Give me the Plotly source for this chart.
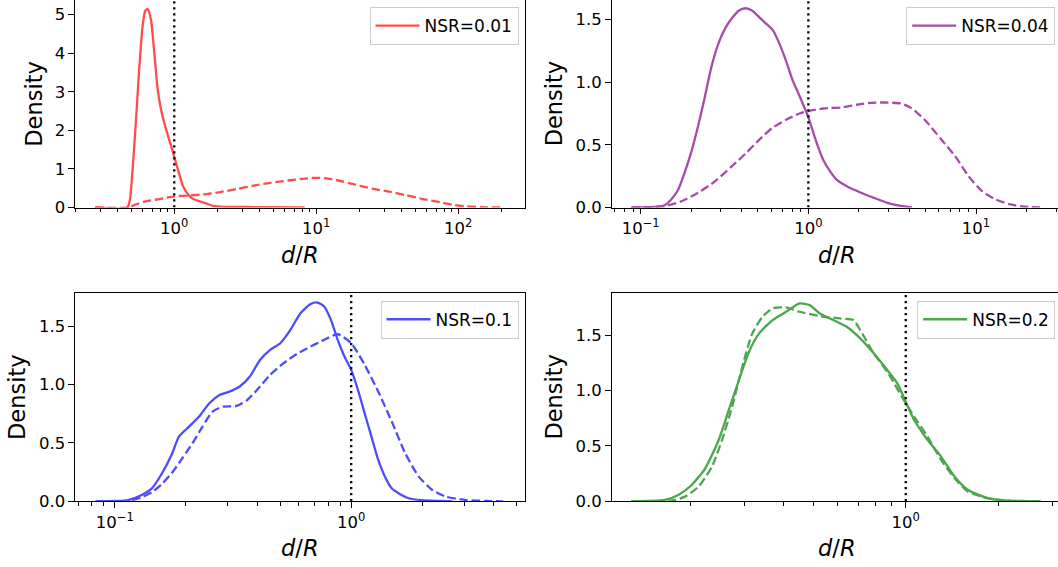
import plotly.graph_objects as go

# ---------------------------------------------------------------
# Density estimates of d/R for four noise-to-signal ratios.
# "solid" = first estimator, "dashed" = second estimator.
# ---------------------------------------------------------------
nsr_labels = ["NSR=0.01", "NSR=0.04", "NSR=0.1", "NSR=0.2"]

# NSR = 0.01
dr_solid_001 = [0.277, 0.467, 0.488, 0.507, 0.536, 0.566, 0.598, 0.624, 0.649, 0.686,
                0.724, 0.765, 0.808, 0.877, 0.952, 1.006, 1.062, 1.153, 1.252, 1.359,
                1.516, 1.692, 1.887, 2.224, 3.64, 8.28]
dens_solid_001 = [0, 0, 0.21, 0.9, 2.19, 3.57, 4.69, 5.10, 5.15, 4.86,
                  4.0, 3.05, 2.53, 2.02, 1.59, 1.28, 0.98, 0.55, 0.34, 0.22,
                  0.16, 0.10, 0.04, 0.017, 0.012, 0]
dr_dash_001 = [0.277, 0.48, 0.536, 0.631, 0.786, 1.0, 1.286, 1.601, 2.106, 2.769,
               3.641, 4.787, 6.30, 8.28, 10.03, 12.15, 14.31, 18.83, 24.75, 32.54,
               42.8, 56.3, 74.0, 92.1, 114.7, 142.8, 198.3]
dens_dash_001 = [0, 0, 0.08, 0.16, 0.22, 0.29, 0.31, 0.34, 0.40, 0.48,
                 0.57, 0.64, 0.70, 0.75, 0.77, 0.75, 0.70, 0.59, 0.49, 0.41,
                 0.32, 0.22, 0.14, 0.07, 0.03, 0.01, 0]

# NSR = 0.04
dr_solid_004 = [0.088, 0.138, 0.152, 0.167, 0.183, 0.201, 0.220, 0.242, 0.265, 0.291,
                0.319, 0.350, 0.384, 0.422, 0.463, 0.508, 0.557, 0.611, 0.671, 0.736,
                0.808, 0.886, 1.0, 1.118, 1.227, 1.346, 1.477, 1.697, 2.044, 2.461,
                2.963, 3.567, 4.14]
dens_solid_004 = [0, 0.016, 0.064, 0.14, 0.28, 0.45, 0.65, 0.89, 1.13, 1.31,
                  1.43, 1.51, 1.57, 1.59, 1.57, 1.52, 1.47, 1.42, 1.31, 1.17,
                  1.01, 0.89, 0.72, 0.52, 0.38, 0.29, 0.22, 0.17, 0.12, 0.077,
                  0.037, 0.013, 0]
dr_dash_004 = [0.088, 0.138, 0.175, 0.220, 0.278, 0.350, 0.422, 0.508, 0.611, 0.736,
               0.886, 1.0, 1.227, 1.621, 1.951, 2.350, 2.829, 3.567, 4.10, 4.94,
               6.23, 7.50, 9.03, 10.87, 13.09, 15.76, 18.97, 24.1]
dens_dash_004 = [0, 0.01, 0.05, 0.117, 0.21, 0.33, 0.43, 0.54, 0.636, 0.70,
                 0.75, 0.77, 0.79, 0.80, 0.82, 0.835, 0.838, 0.83, 0.795, 0.70,
                 0.54, 0.41, 0.25, 0.13, 0.064, 0.027, 0.008, 0]

# NSR = 0.1
dr_solid_01 = [0.083, 0.10, 0.114, 0.130, 0.1436, 0.1585, 0.175, 0.1868, 0.2062, 0.2276,
               0.2512, 0.2773, 0.306, 0.3378, 0.3728, 0.4115, 0.4542, 0.5012, 0.5532, 0.6105,
               0.6739, 0.7197, 0.7686, 0.8209, 0.8767, 0.9363, 1.0, 1.068, 1.14, 1.218,
               1.301, 1.389, 1.484, 1.585, 1.75, 1.995, 2.352, 2.683]
dens_solid_01 = [0, 0.003, 0.011, 0.054, 0.111, 0.24, 0.41, 0.554, 0.64, 0.726,
                 0.84, 0.911, 0.94, 0.983, 1.069, 1.211, 1.297, 1.354, 1.469, 1.611,
                 1.691, 1.703, 1.669, 1.554, 1.383, 1.24, 1.126, 0.954, 0.754, 0.554,
                 0.354, 0.211, 0.111, 0.069, 0.026, 0.009, 0.003, 0]
dr_dash_01 = [0.083, 0.114, 0.130, 0.1436, 0.1585, 0.175, 0.1931, 0.2131, 0.2351, 0.2595,
              0.2864, 0.3268, 0.3607, 0.398, 0.4542, 0.5179, 0.5906, 0.6739, 0.7686, 0.8767,
              1.0, 1.14, 1.301, 1.484, 1.693, 1.931, 2.203, 2.512, 3.06, 3.728, 4.394]
dens_dash_01 = [0, 0.003, 0.034, 0.077, 0.149, 0.246, 0.369, 0.497, 0.64, 0.769,
                0.811, 0.817, 0.863, 0.949, 1.083, 1.183, 1.263, 1.326, 1.383, 1.431,
                1.354, 1.169, 0.94, 0.683, 0.411, 0.211, 0.097, 0.04, 0.011, 0.003, 0]

# NSR = 0.2
dr_solid_02 = [0.128, 0.1646, 0.1821, 0.2014, 0.2229, 0.2465, 0.2659, 0.2868, 0.3093, 0.3336,
               0.3692, 0.4083, 0.4516, 0.4872, 0.5256, 0.5812, 0.6429, 0.7112, 0.7868, 0.8705,
               0.9389, 1.0, 1.065, 1.178, 1.303, 1.442, 1.595, 1.856, 2.159, 2.744]
dens_solid_02 = [0, 0.012, 0.057, 0.147, 0.298, 0.553, 0.824, 1.094, 1.35, 1.515,
                 1.635, 1.71, 1.785, 1.77, 1.695, 1.635, 1.575, 1.47, 1.335, 1.184,
                 1.064, 0.899, 0.733, 0.553, 0.403, 0.222, 0.102, 0.027, 0.006, 0]
dr_dash_02 = [0.128, 0.1731, 0.1916, 0.2119, 0.2344, 0.2527, 0.2726, 0.2941, 0.3172, 0.3422,
              0.3692, 0.4083, 0.4516, 0.5256, 0.6113, 0.6763, 0.7112, 0.7868, 0.8705, 1.0,
              1.065, 1.178, 1.303, 1.442, 1.595, 1.856, 2.159, 2.744]
dens_dash_02 = [0, 0.006, 0.042, 0.132, 0.313, 0.553, 0.854, 1.214, 1.515, 1.665,
                1.74, 1.749, 1.71, 1.671, 1.65, 1.635, 1.545, 1.335, 1.169, 0.884,
                0.763, 0.583, 0.373, 0.207, 0.087, 0.027, 0.006, 0]

# reference position d/R = 1
THRESHOLD = 1.0

# axis tick labels
ytick_vals_tl = [0, 1, 2, 3, 4, 5]
ytick_vals = [0, 0.5, 1.0, 1.5]
xtick_vals = [[1, 10, 100], [0.1, 1, 10], [0.1, 1], [1]]
xtick_text = [["10<sup>0</sup>", "10<sup>1</sup>", "10<sup>2</sup>"],
              ["10<sup>\u22121</sup>", "10<sup>0</sup>", "10<sup>1</sup>"],
              ["10<sup>\u22121</sup>", "10<sup>0</sup>"],
              ["10<sup>0</sup>"]]

# ---------------------------------------------------------------
W, H = 1058, 567
FONT = "DejaVu Sans"
colors = ["#ff4c4c", "#a64ca6", "#4c4cff", "#4ca64c"]
LW = 2.3

data = [
    (dr_solid_001, dens_solid_001, dr_dash_001, dens_dash_001),
    (dr_solid_004, dens_solid_004, dr_dash_004, dens_dash_004),
    (dr_solid_01, dens_solid_01, dr_dash_01, dens_dash_01),
    (dr_solid_02, dens_solid_02, dr_dash_02, dens_dash_02),
]

# pixel geometry of each panel: (left, right, top, bottom)
px_left, px_right = [75, 611.7], [525, 1058]
px_row_top, px_row_bottom = [0, 292.7], [207.5, 501.3]
x_ranges = [[-0.699, 2.470], [-1.173, 1.489], [-1.168, 0.735], [-0.956, 0.495]]
y_tops = [5.38, 1.656, 1.787, 1.882]

def minor_vals(lo, hi):
    vals = []
    for e in range(lo, hi + 1):
        for m in range(2, 10):
            vals.append(m * 10 ** e)
    return vals

fig = go.Figure()
layout = dict(
    width=W, height=H,
    margin=dict(l=0, r=0, t=0, b=0),
    paper_bgcolor="white", plot_bgcolor="white",
    font=dict(family=FONT, size=16, color="black"),
    annotations=[],
)

for i in range(4):
    row, col = divmod(i, 2)
    sfx = "" if i == 0 else str(i + 1)
    xs, ys, xd, yd = data[i]
    color = colors[i]

    fig.add_trace(go.Scatter(
        x=xs, y=ys, mode="lines", name=nsr_labels[i],
        line=dict(color=color, width=LW, shape="spline", smoothing=0.6),
        xaxis="x" + sfx, yaxis="y" + sfx, legend="legend" + sfx,
        showlegend=True, hoverinfo="skip"))
    fig.add_trace(go.Scatter(
        x=xd, y=yd, mode="lines", name=nsr_labels[i] + " (dashed)",
        line=dict(color=color, width=LW, shape="spline", smoothing=0.6,
                  dash="8.5px,3.7px"),
        xaxis="x" + sfx, yaxis="y" + sfx, showlegend=False, hoverinfo="skip"))
    fig.add_trace(go.Scatter(
        x=[THRESHOLD, THRESHOLD], y=[0, y_tops[i]], mode="lines",
        line=dict(color="black", width=LW, dash="2.3px,3.7px"),
        xaxis="x" + sfx, yaxis="y" + sfx, showlegend=False, hoverinfo="skip"))

    x0, x1 = px_left[col] / W, px_right[col] / W
    y0 = 1 - px_row_bottom[row] / H
    y1 = 1 - px_row_top[row] / H

    layout["xaxis" + sfx] = dict(
        type="log", range=x_ranges[i], domain=[x0, x1],
        anchor="y" + sfx, showgrid=False, zeroline=False,
        showline=True, linecolor="black", linewidth=1.1,
        mirror=(row == 1),
        ticks="outside", ticklen=5.5, tickwidth=1.1, tickcolor="black",
        tickmode="array", tickvals=xtick_vals[i], ticktext=xtick_text[i],
        tickfont=dict(family=FONT, size=16.5, color="black"),
        minor=dict(tickmode="array", tickvals=minor_vals(-2, 2),
                   ticks="outside", ticklen=3.2, tickwidth=0.9,
                   tickcolor="black", showgrid=False),
        automargin=False, fixedrange=True,
    )
    layout["yaxis" + sfx] = dict(
        range=[0, y_tops[i]], domain=[y0, y1],
        anchor="x" + sfx, showgrid=False, zeroline=False,
        showline=True, linecolor="black", linewidth=1.1, mirror=True,
        ticks="outside", ticklen=5.5, tickwidth=1.1, tickcolor="black",
        tickmode="array",
        tickvals=ytick_vals_tl if i == 0 else ytick_vals,
        tickformat="d" if i == 0 else ".1f",
        tickfont=dict(family=FONT, size=16.5, color="black"),
        automargin=False, fixedrange=True,
    )

    # legend in the upper right corner of each panel
    leg_right = (px_right[col] if col == 0 else 1061.7) - 6.5
    leg_top = px_row_top[row] + (7 if row == 0 else 8)
    layout["legend" + sfx] = dict(
        x=leg_right / W, y=1 - leg_top / H, xanchor="right", yanchor="top",
        bgcolor="rgba(255,255,255,0.8)", bordercolor="#cccccc", borderwidth=1,
        itemwidth=44,
        font=dict(family=FONT, size=17, color="black"),
    )

    # axis titles
    dens_x = [34, 553.6, 17, 553.6][i]
    layout["annotations"].append(dict(
        text="Density", textangle=-90, xref="paper", yref="paper",
        x=dens_x / W, y=1 - (px_row_top[row] + px_row_bottom[row]) / 2 / H,
        xanchor="center", yanchor="middle", showarrow=False,
        font=dict(family=FONT, size=22.5, color="black")))
    center_x = (px_left[col] + (px_right[col] if col == 0 else 1061.7)) / 2
    layout["annotations"].append(dict(
        text="<i>d</i>/<i>R</i>", xref="paper", yref="paper",
        x=center_x / W, y=1 - [255, 548][row] / H,
        xanchor="center", yanchor="middle", showarrow=False,
        font=dict(family=FONT, size=22.5, color="black")))

fig.update_layout(**layout)
fig.write_html("out.html")
